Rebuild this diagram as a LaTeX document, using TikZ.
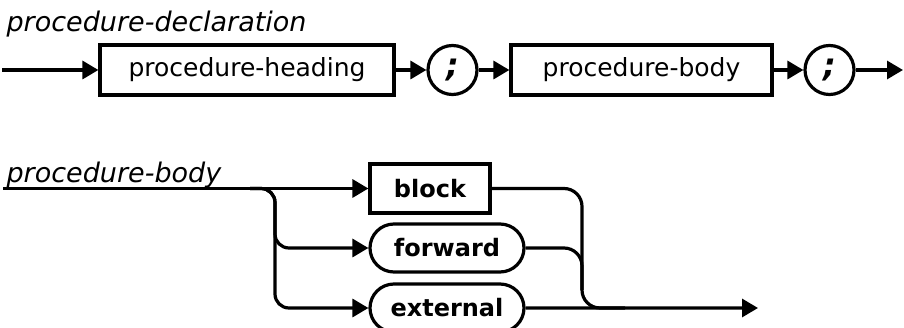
\documentclass[tikz,border=0pt]{standalone}
\usepackage{fontspec}
\setmainfont{DejaVu Sans}
\usetikzlibrary{arrows.meta,shapes.misc}
\begin{document}
\begin{tikzpicture}[x=1pt,y=-1pt,
  line width=3.2pt,
  arr/.style={-{Triangle[length=16pt,width=18pt]}},
  term/.style={draw, rectangle, minimum height=50pt, inner sep=0pt, font=\fontsize{25}{30}\selectfont},
  semi/.style={draw, circle, minimum size=49pt, inner sep=0pt, font=\fontsize{32}{34}\selectfont\itshape\bfseries},
  lowbox/.style={draw, rectangle, minimum height=49pt, minimum width=120pt, inner sep=0pt, font=\fontsize{24}{28}\selectfont\bfseries},
  oval/.style={draw, rounded rectangle, minimum height=48pt, minimum width=154pt, inner sep=0pt, font=\fontsize{24}{28}\selectfont\bfseries},
  title/.style={anchor=base west, inner sep=0pt, font=\fontsize{27}{32}\selectfont\itshape},
  conn/.style={rounded corners=14pt},
  merge/.style={rounded corners=18pt}
]
\useasboundingbox (0,0) rectangle (904,328);

% procedure-declaration
\node[title] (t1) at (5,32) {procedure-declaration};
\coordinate (s1) at (2,70);
\node[term, minimum width=294pt] (ph) at (247,70) {procedure-heading};
\node[semi] (c1) at (452.5,70) {;};
\node[term, minimum width=261pt] (pb) at (641.5,70) {procedure-body};
\node[semi] (c2) at (829.5,70) {;};
\coordinate (e1) at (903,70);
\draw[arr] (s1) -- (ph);
\draw[arr] (ph) -- (c1);
\draw[arr] (c1) -- (pb);
\draw[arr] (pb) -- (c2);
\draw[arr] (c2) -- (e1);

% procedure-body
\node[title] (t2) at (5,183) {procedure-body};
\coordinate (s2) at (3,188.5);
\node[lowbox] (bl) at (430,188.5) {block};
\node[oval] (fw) at (447,248) {forward};
\node[oval] (ex) at (447,308) {external};
\coordinate (b0) at (250,188.5);
\coordinate (sp) at (275,188.5);
\coordinate (jn) at (582,188.5);
\coordinate (jf) at (582,290);
\coordinate (jo) at (625,308);
\coordinate (e2) at (758,308);

\draw[arr] (s2) -- (bl);
\draw[arr, conn] (b0) -- (sp) -- (sp |- fw) -- (fw);
\draw[arr, conn] (b0) -- (sp) -- (sp |- ex) -- (ex);
\draw[merge] (bl) -- (jn) -- (jn |- ex) -- (jo);
\draw[merge] (fw) -- (jn |- fw) -- (jf);
\draw[arr] (ex) -- (e2);
\end{tikzpicture}
\end{document}
